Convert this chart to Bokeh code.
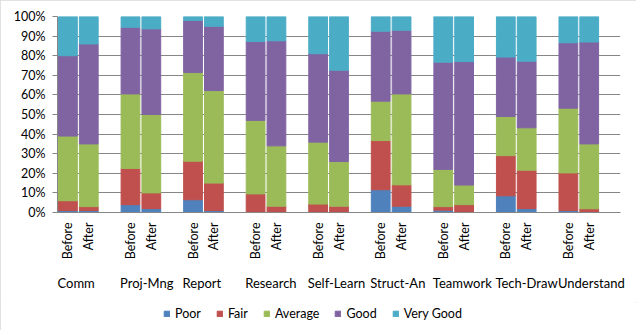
import math
from bokeh.plotting import figure
from bokeh.layouts import column
from bokeh.models import (ColumnDataSource, Range1d, FixedTicker, LinearAxis,
                          PrintfTickFormatter, Legend, LegendItem)
from bokeh.embed import file_html
from bokeh.resources import INLINE

groups = ["Comm", "Proj-Mng", "Report", "Research", "Self-Learn",
          "Struct-An", "Teamwork", "Tech-Draw", "Understand"]
phases = ["Before", "After"]
ratings = ["Poor", "Fair", "Average", "Good", "Very Good"]

# percentages, ordered Comm-Before, Comm-After, Proj-Mng-Before, ...
poor      = [1, 1,    4, 2,      6.5, 1,     0, 0,       0, 0,       11.6, 3.2,  1.2, 0,   8.5, 2,     1, 0]
fair      = [5, 2,    18.5, 8,   19.7, 14,   9.5, 3.2,   4.3, 3.2,   25.1, 10.9, 1.8, 4,   20.5, 19.6, 19.2, 1.9]
average   = [33, 32,  38, 40,    45.2, 47.2, 37.5, 30.8, 31.6, 22.8, 20.1, 46.4, 19, 10,   20, 21.6,   33, 33.1]
good      = [41, 51,  34, 43.7,  26.6, 32.8, 40.2, 53.6, 45.1, 46.6, 35.7, 32.5, 54.7, 63, 30.3, 34,   33.4, 52]
very_good = [20, 14,  5.5, 6.3,  2, 5,       12.8, 12.4, 19, 27.4,   7.5, 7,     23.3, 23, 20.7, 22.8, 13.4, 13]

colors = ["#4F81BD", "#C0504D", "#9BBB59", "#8064A2", "#4BACC6"]
y_ticks = list(range(0, 101, 10))

FONT = "Lato"
FS = "12.5px"
GRID = "#868686"

# each group occupies three slots: Before, After, blank
xs = [3 * g + k + 0.5 for g in range(len(groups)) for k in range(len(phases))]
src = ColumnDataSource(dict(x=xs, Poor=poor, Fair=fair, Average=average,
                            Good=good, **{"Very Good": very_good}))

p = figure(width=636, height=302, output_backend="svg", toolbar_location=None,
           x_range=Range1d(0, 3 * len(groups)), y_range=Range1d(0, 100),
           min_border_left=57, min_border_right=16, min_border_top=16,
           min_border_bottom=90, outline_line_color=None,
           background_fill_color="white", border_fill_color="white")

p.vbar_stack(ratings, x="x", width=0.9, color=colors, source=src)

# y axis
yax = p.yaxis[0]
yax.ticker = FixedTicker(ticks=y_ticks)
yax.formatter = PrintfTickFormatter(format="%d%%")
yax.axis_line_color = GRID
yax.major_tick_line_color = GRID
yax.major_tick_out = 5
yax.major_tick_in = 0
yax.minor_tick_line_color = None
yax.major_label_standoff = 7
yax.major_label_text_font = FONT
yax.major_label_text_font_size = FS
yax.major_label_text_color = "#000000"

p.ygrid.ticker = FixedTicker(ticks=y_ticks)
p.ygrid.grid_line_color = GRID
p.xgrid.grid_line_color = None

# phase labels
xax = p.xaxis[0]
xax.ticker = FixedTicker(ticks=xs)
xax.major_label_overrides = {x: phases[i % 2] for i, x in enumerate(xs)}
xax.major_label_orientation = math.pi / 2
xax.axis_line_color = GRID
xax.major_tick_line_color = None
xax.minor_tick_line_color = None
xax.major_tick_out = 0
xax.major_label_standoff = 10
xax.major_label_text_font = FONT
xax.major_label_text_font_size = FS
xax.major_label_text_color = "#000000"

# group labels (left aligned at the start of each group)
gpos = [3.0 * g for g in range(len(groups))]
gax = LinearAxis(ticker=FixedTicker(ticks=gpos),
                 major_label_overrides={x: groups[i] for i, x in enumerate(gpos)})
gax.axis_line_color = None
gax.major_tick_line_color = None
gax.minor_tick_line_color = None
gax.major_tick_out = 0
gax.major_label_standoff = 20
gax.major_label_orientation = -1e-9
gax.major_label_text_font = FONT
gax.major_label_text_font_size = "13px"
gax.major_label_text_color = "#000000"
p.add_layout(gax, "below")

# legend strip below the chart (its frame is aligned with the chart's frame)
q = figure(width=636, height=28, output_backend="svg", toolbar_location=None,
           x_axis_type=None, y_axis_type=None, min_border=0,
           x_range=p.x_range, y_range=Range1d(0, 1),
           outline_line_color=None, background_fill_color="white",
           border_fill_color="white")
q.grid.visible = False
swatches = q.vbar_stack(ratings, x="x", width=0.9, color=colors, source=src)
for r in swatches:
    r.visible = False
lg = Legend(items=[LegendItem(label=lab, renderers=[r]) for lab, r in zip(ratings, swatches)],
            location=(106, 9), orientation="horizontal",
            background_fill_alpha=0, border_line_color=None,
            inactive_fill_alpha=0, click_policy="none",
            padding=0, margin=0, spacing=15, label_standoff=5,
            glyph_width=7, glyph_height=7, label_height=14,
            label_text_font=FONT, label_text_font_size=FS,
            label_text_color="#000000")
q.add_layout(lg)

layout = column(p, q, spacing=0)
layout.styles = {"outline": "1px solid #D9D9D9", "outline-offset": "-1px"}

open("out.html", "w").write(file_html(layout, INLINE))
